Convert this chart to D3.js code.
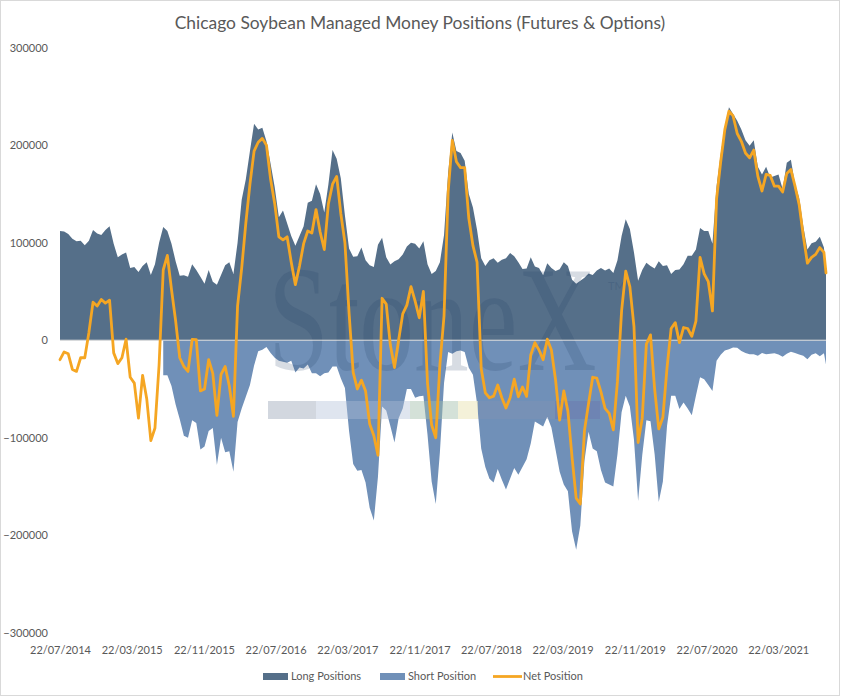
<!DOCTYPE html>
<html><head><meta charset="utf-8">
<script src="https://cdn.jsdelivr.net/npm/d3@7"></script>
<style>body{margin:0;background:#fff} svg{display:block}</style>
</head><body><div id="chart"></div>
<script>
// ---------------- DATA ----------------
const titleText = "Chicago Soybean Managed Money Positions (Futures & Options)";
const seriesNames = ["Long Positions", "Short Position", "Net Position"];
// weekly COT reports sampled every second week, from 22/07/2014, plus the last report 31/08/2021
const firstReport = "2014-07-22";
const lastReport = "2021-08-31";
const reportCount = 186;
const xTickLabels = ["22/07/2014","22/03/2015","22/11/2015","22/07/2016","22/03/2017","22/11/2017","22/07/2018","22/03/2019","22/11/2019","22/07/2020","22/03/2021"];
const yTicks = [-300000,-200000,-100000,0,100000,200000,300000];

const longPositions = [
112000,111500,109000,104000,101500,102000,97500,102000,113000,109500,
108000,113000,117000,99000,85000,88000,90000,74000,75000,70000,
76000,80000,67000,78000,100000,116000,112000,99000,81000,66000,
66500,65000,78000,72000,65000,58000,72000,60000,57000,67000,
77000,80000,68000,100000,144000,165000,194000,222000,216000,218000,
204000,181000,157000,126000,133000,120000,107000,97000,107000,117000,
141000,143000,160000,150000,131000,160000,195000,186000,166000,128000,
94000,85500,86000,95000,82000,77000,75000,98000,105000,85000,
77600,81000,83000,88000,96000,100000,99000,94000,101500,78000,
68000,71000,80000,108000,172000,213000,194000,192000,184000,150000,
136000,113000,84000,76000,82000,84000,79500,82500,84000,89500,
86000,80000,73000,73500,85000,75500,74000,66500,79000,74000,
71000,72700,80000,76000,62000,58000,61000,64000,68500,67000,
71500,74000,71500,73500,69000,82000,107000,124000,114000,90000,
61000,72000,79400,76000,73500,81000,76000,77000,68000,72000,
72500,78000,86500,86500,93000,115000,112000,112000,99000,158000,
191000,219000,239000,232000,225000,216000,205000,199500,205000,178000,
170000,178000,167000,168500,170000,155000,182000,185000,160000,146000,
117000,93000,99500,101000,106000,95000,74000];

const shortPositions = [
null,null,null,null,null,null,null,null,null,null,
null,null,null,null,null,null,null,null,null,null,
null,null,null,null,null,-36000,-36000,-47000,-66000,-81000,
-98000,-100000,-82000,-85000,-112000,-109000,-93000,-90000,-128000,-100000,
-115000,-114000,-135000,-84000,-70000,-58000,-46000,-26000,-11300,-9700,
-7000,-13000,-18000,-21000,-22000,-23000,-21000,-33000,-28000,-29000,
-25000,-34000,-34000,-37000,-34000,-33000,-27000,-27000,-39000,-49000,
-93000,-127000,-134000,-133000,-146000,-172000,-185000,-140000,-68000,-72000,
-88000,-105000,-80000,-70000,-50000,-50000,-59000,-57600,-57000,-97000,
-145000,-168000,-115000,-44000,-12000,-14000,-11300,-10500,-12000,-28300,
-35500,-65000,-111000,-130000,-142000,-146000,-132000,-143000,-153000,-142000,
-131000,-138000,-130000,-122000,-106000,-83400,-86000,-88500,-78500,-89500,
-112000,-135000,-148000,-155000,-196000,-215000,-190000,-124000,-94000,-111000,
-114000,-133000,-146000,-148000,-150000,-117000,-74000,-57000,-68000,-102000,
-165000,-118000,-82000,-83000,-117000,-166000,-145000,-88000,-57000,-57000,
-70500,-64000,-70000,-77000,-57000,-38000,-40000,-46000,-52000,-21000,
-14800,-10500,-9300,-7600,-7800,-11000,-13000,-14300,-14500,-16000,
-13000,-14300,-14000,-13300,-14700,-17000,-14000,-11800,-13000,-14700,
-16000,-19500,-15000,-13500,-16500,-13500,-25000];

const netPositions = [
-20000,-12000,-14000,-30000,-32000,-18000,-18000,8000,39000,35000,
41700,38000,41000,-13000,-24000,-18000,1000,-38000,-44000,-80000,
-36000,-60000,-103000,-90000,-25000,72000,87000,52000,20000,-18000,
-27000,-32000,700,500,-52000,-50000,-20000,-34000,-77000,-35000,
-27000,-47000,-78000,35000,74000,120000,160000,194000,203000,207000,
200000,165000,140000,106000,103000,106000,80000,57000,76000,99000,
112000,110000,134000,111000,93000,140000,160000,168000,130000,100000,
28000,-33000,-50000,-41000,-52000,-86000,-98000,-118000,43000,37000,
-5000,-28000,0,27000,36000,55000,40000,23000,50000,-44000,
-87000,-100000,-25000,25000,152000,205000,183000,177000,177000,125000,
97000,80000,-29000,-54000,-59000,-57400,-46000,-59000,-69500,-59000,
-40000,-58000,-48000,-57600,-15000,-2500,-10000,-20000,1000,-10000,
-40500,-82000,-52000,-73000,-120000,-162000,-168000,-93000,-65000,-38000,
-39000,-53000,-70000,-75000,-92000,-42000,30000,70800,55000,14000,
-105000,-80000,-4000,5500,-50000,-91000,-79000,-28300,12000,18000,
-2500,13000,12000,4000,19500,85000,68000,60000,30000,145000,
183000,216000,235000,230000,212000,204000,192000,187000,195000,168000,
153000,170000,169000,158000,158000,152000,171000,175000,158000,139000,
107000,79000,85000,88000,95000,90000,69000];

// ---------------- CHART ----------------
const W = 841, H = 696;
const colLong = "#556F89", colShort = "#7090B8", colNet = "#F5A623", txt = "#595959";
const parseISO = d3.timeParse("%Y-%m-%d");
const parseLbl = d3.timeParse("%d/%m/%Y");
const fmtLbl = d3.timeFormat("%d/%m/%Y");
const start = parseISO(firstReport);
const dates = d3.range(reportCount).map(i => d3.timeDay.offset(start, 14 * i)).concat([parseISO(lastReport)]);
const rows = dates.map((d, i) => ({d, l: longPositions[i], s: shortPositions[i], n: netPositions[i]}));

const x = d3.scaleTime().domain([start, parseISO(lastReport)]).range([60, 826]);
const y = d3.scaleLinear().domain([-300000, 300000]).range([632.7, 47.7]);

const svg = d3.select("#chart").append("svg").attr("width", W).attr("height", H)
  .style("font-family", "Lato, 'Open Sans', sans-serif");
svg.append("rect").attr("x", 0).attr("y", 0).attr("width", W).attr("height", H).attr("fill", "#fff");
svg.append("rect").attr("x", 0.5).attr("y", 0.5).attr("width", 839).attr("height", 695)
  .attr("fill", "none").attr("stroke", "#d9d9d9");

svg.append("text").attr("x", 420).attr("y", 29).attr("text-anchor", "middle")
  .attr("font-size", 17.4).attr("fill", txt).text(titleText);

// areas
svg.append("path").datum(rows)
  .attr("d", d3.area().x(r => x(r.d)).y0(y(0)).y1(r => y(r.l)))
  .attr("fill", colLong);
svg.append("path").datum(rows)
  .attr("d", d3.area().defined(r => r.s != null).x(r => x(r.d)).y0(y(0)).y1(r => y(r.s)))
  .attr("fill", colShort);

// watermark
const wm = svg.append("g").attr("pointer-events", "none");
wm.append("text").attr("transform", "translate(268,370) scale(0.73,1)")
  .attr("font-family", "'Liberation Serif', 'DejaVu Serif', serif")
  .attr("font-size", 150).attr("fill", "#1f3c64").attr("fill-opacity", 0.18).text("StoneX");
wm.append("text").attr("x", 608).attr("y", 290).attr("font-size", 11)
  .attr("fill", "#1f3c64").attr("fill-opacity", 0.2).text("TM");
const bar = [[268,316,"#8e9ab0",0.4],[316,410,"#aebfd6",0.4],[410,458,"#9fbda8",0.45],[458,478,"#ece8c0",0.6],[478,555,"#8795b3",0.3],[555,600,"#6a6aa8",0.3]];
bar.forEach(b => wm.append("rect").attr("x", b[0]).attr("y", 401).attr("width", b[1] - b[0]).attr("height", 18)
  .attr("fill", b[2]).attr("fill-opacity", b[3]));

// zero line
svg.append("line").attr("x1", 60).attr("x2", 826).attr("y1", y(0)).attr("y2", y(0))
  .attr("stroke", "#d9d9d9").attr("stroke-width", 1);

// net line
svg.append("path").datum(rows)
  .attr("d", d3.line().x(r => x(r.d)).y(r => y(r.n)))
  .attr("fill", "none").attr("stroke", colNet).attr("stroke-width", 2.8)
  .attr("stroke-linejoin", "round").attr("stroke-linecap", "round");

// axes
const yAxis = svg.append("g").attr("transform", "translate(51,0)")
  .call(d3.axisLeft(y).tickValues(yTicks).tickSize(0).tickPadding(3).tickFormat(d3.format("d")));
yAxis.select(".domain").remove();
yAxis.selectAll("text").attr("fill", txt).attr("font-size", 11).attr("font-family", "Lato, sans-serif");

const xAxis = svg.append("g").attr("transform", "translate(0,643)")
  .call(d3.axisBottom(x).tickValues(xTickLabels.map(parseLbl)).tickSize(0).tickPadding(3).tickFormat(fmtLbl));
xAxis.select(".domain").remove();
xAxis.selectAll("text").attr("fill", txt).attr("font-size", 11).attr("font-family", "Lato, sans-serif");

// legend
const lg = svg.append("g").attr("font-size", 11).attr("fill", txt);
lg.append("rect").attr("x", 263).attr("y", 673).attr("width", 25).attr("height", 7).attr("fill", colLong);
lg.append("text").attr("x", 291).attr("y", 680).text(seriesNames[0]);
lg.append("rect").attr("x", 380).attr("y", 673).attr("width", 25).attr("height", 7).attr("fill", colShort);
lg.append("text").attr("x", 408).attr("y", 680).text(seriesNames[1]);
lg.append("line").attr("x1", 493).attr("x2", 522).attr("y1", 676.5).attr("y2", 676.5)
  .attr("stroke", colNet).attr("stroke-width", 2.8);
lg.append("text").attr("x", 523).attr("y", 680).text(seriesNames[2]);
</script>
</body></html>
